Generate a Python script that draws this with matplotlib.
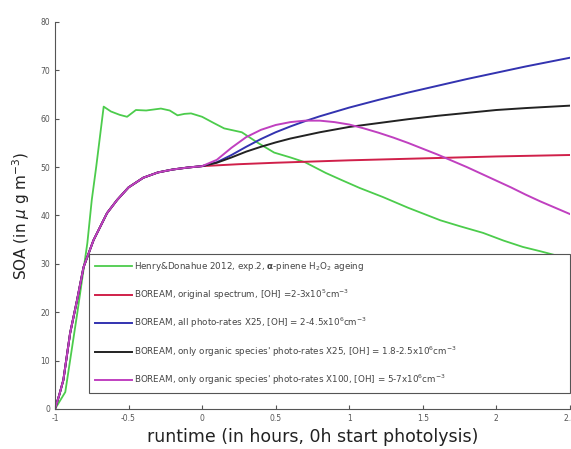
import matplotlib
matplotlib.use("Agg")
import matplotlib.pyplot as plt

# measured Henry & Donahue 2012 data
hd_x = [-1, -0.97, -0.93, -0.85, -0.78, -0.75, -0.72, -0.669, -0.62, -0.56, -0.51, -0.45,
        -0.38, -0.28, -0.22, -0.167, -0.12, -0.075, 0.0, 0.08, 0.15, 0.27, 0.38, 0.49,
        0.60, 0.70, 0.84, 0.95, 1.07, 1.23, 1.40, 1.62, 1.75, 1.91, 2.05, 2.18, 2.30, 2.40]
hd_y = [0, 1.5, 3.5, 19.5, 34.3, 43.2, 50.0, 62.5, 61.5, 60.8, 60.4, 61.8,
        61.7, 62.1, 61.7, 60.7, 61.0, 61.1, 60.4, 59.1, 58.0, 57.2, 55.0, 53.0,
        52.0, 51.0, 48.8, 47.3, 45.7, 43.8, 41.6, 39.0, 37.8, 36.4, 34.8, 33.5, 32.6, 31.8]

# BOREAM runs share the dark period before photolysis
pre_x = [-1, -0.97, -0.943, -0.897, -0.85, -0.806, -0.738, -0.646, -0.578, -0.5,
         -0.4, -0.3, -0.2, -0.1]
pre_y = [0, 3.0, 6.0, 15.7, 22.5, 29.3, 34.9, 40.5, 43.2, 45.8,
         47.8, 48.9, 49.5, 49.9]

red_x = [0, 0.25, 0.5, 1.0, 1.5, 2.0, 2.5]
red_y = [50.2, 50.6, 50.9, 51.4, 51.8, 52.2, 52.5]

blue_x = [0, 0.1, 0.2, 0.3, 0.4, 0.5, 0.6, 0.7, 0.8, 1.0, 1.2, 1.4, 1.6, 1.8, 2.0, 2.2, 2.4, 2.5]
blue_y = [50.2, 51.0, 52.5, 54.2, 55.8, 57.2, 58.4, 59.5, 60.5, 62.3, 63.9, 65.4, 66.8,
          68.2, 69.5, 70.8, 72.0, 72.6]

black_x = [0, 0.1, 0.2, 0.3, 0.4, 0.5, 0.6, 0.8, 1.0, 1.2, 1.4, 1.6, 1.8, 2.0, 2.2, 2.5]
black_y = [50.2, 50.9, 52.0, 53.2, 54.2, 55.1, 55.9, 57.2, 58.3, 59.1, 59.9, 60.6,
           61.2, 61.8, 62.2, 62.7]

mag_x = [0, 0.1, 0.2, 0.3, 0.4, 0.5, 0.6, 0.7, 0.8, 0.9, 1.0, 1.1, 1.2, 1.3, 1.4,
         1.5, 1.6, 1.7, 1.8, 1.9, 2.0, 2.1, 2.2, 2.3, 2.4, 2.5]
mag_y = [50.2, 51.5, 54.0, 56.2, 57.7, 58.7, 59.3, 59.6, 59.6, 59.3, 58.8, 58.0, 57.1,
         56.1, 55.0, 53.8, 52.6, 51.3, 50.0, 48.6, 47.2, 45.8, 44.3, 42.9, 41.6, 40.3]

labels = [
    r"Henry&Donahue 2012, exp.2, $\mathbf{\alpha}$-pinene H$_2$O$_2$ ageing",
    r"BOREAM, original spectrum, [OH] =2-3x10$^5$cm$^{-3}$",
    r"BOREAM, all photo-rates X25, [OH] = 2-4.5x10$^6$cm$^{-3}$",
    r"BOREAM, only organic species' photo-rates X25, [OH] = 1.8-2.5x10$^6$cm$^{-3}$",
    r"BOREAM, only organic species' photo-rates X100, [OH] = 5-7x10$^6$cm$^{-3}$",
]
colors = ["#4ccc4c", "#d0204a", "#3333b0", "#222222", "#c040c0"]

fig = plt.figure(figsize=(5.71, 4.49), dpi=100)
ax = fig.add_axes([0.0963, 0.0891, 0.9017, 0.862])

ax.plot(hd_x, hd_y, color=colors[0], lw=1.3, label=labels[0])
series = [(red_x, red_y), (blue_x, blue_y), (black_x, black_y), (mag_x, mag_y)]
for (sx, sy), c, lab in zip(series, colors[1:], labels[1:]):
    ax.plot(pre_x + sx, pre_y + sy, color=c, lw=1.4, label=lab)

ax.set_xlim(-1, 2.5)
ax.set_ylim(0, 80)
ax.set_xticks([-1, -0.5, 0, 0.5, 1, 1.5, 2, 2.5])
ax.set_xticklabels(["-1", "-0.5", "0", "0.5", "1", "1.5", "2", "2.5"])
ax.set_yticks(range(0, 81, 10))
ax.spines["top"].set_visible(False)
ax.spines["right"].set_visible(False)
for s in ["left", "bottom"]:
    ax.spines[s].set_color("#555555")
    ax.spines[s].set_linewidth(0.8)
ax.tick_params(direction="in", length=3, labelsize=5.5, labelcolor="#555555", color="#555555")

ax.set_xlabel("runtime (in hours, 0h start photolysis)", fontsize=12.5, color="#222222", labelpad=4)
ax.set_ylabel(r"SOA (in $\mu$ g m$^{-3}$)", fontsize=11, color="#222222", labelpad=6)

leg = ax.legend(loc="lower left", bbox_to_anchor=(0.066, 0.041, 0.934, 0.35), mode="expand",
                borderaxespad=0, fontsize=6.3, labelspacing=1.6, handlelength=4.2,
                handletextpad=0.3, fancybox=False, framealpha=1, edgecolor="#555555",
                borderpad=0.7)
leg.get_frame().set_linewidth(0.8)
for t in leg.get_texts():
    t.set_color("#444444")

fig.savefig("out.png", dpi=100)
